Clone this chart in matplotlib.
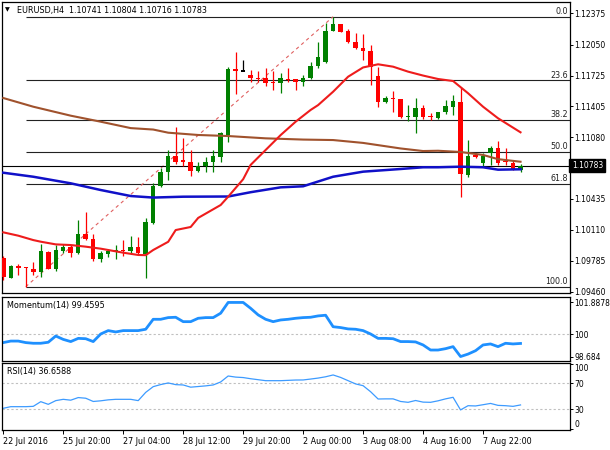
import matplotlib
matplotlib.use("Agg")
import matplotlib.pyplot as plt
import matplotlib.transforms as mtransforms
import numpy as np

W, H = 610, 450
FONT = "DejaVu Sans"
FS = 5.8
FS_TICK = 5.5

# ---------------------------------------------------------------- data ----
opens = [1.09815, 1.09610, 1.09735, 1.09718, 1.09700, 1.09666, 1.09881, 1.09700,
         1.09889, 1.09927, 1.09871, 1.10066, 1.10014, 1.09805, 1.09854, 1.09889,
         1.09899, 1.09889, 1.09934, 1.09854, 1.10178, 1.10572, 1.10719, 1.10886,
         1.10841, 1.10823, 1.10730, 1.10779, 1.10823, 1.10876, 1.11102, 1.11794,
         1.11773, 1.11731, 1.11703, 1.11703, 1.11655, 1.11644, 1.11689, 1.11689,
         1.11661, 1.11697, 1.11825, 1.11870, 1.12192, 1.12265, 1.12192, 1.12080,
         1.12011, 1.11982, 1.11721, 1.11451, 1.11487, 1.11480, 1.11288, 1.11294,
         1.11388, 1.11305, 1.11277, 1.11341, 1.11392, 1.11445, 1.10684, 1.10894,
         1.10807, 1.10911, 1.10964, 1.10826, 1.10807, 1.10741]
highs = [1.09836, 1.09739, 1.09753, 1.09721, 1.09777, 1.09962, 1.09889, 1.09951,
         1.09962, 1.09951, 1.10213, 1.10300, 1.10063, 1.09889, 1.09907, 1.09951,
         1.10003, 1.10048, 1.10038, 1.10231, 1.10597, 1.10755, 1.10946, 1.11189,
         1.11074, 1.10946, 1.10817, 1.10870, 1.10946, 1.11131, 1.11818, 1.11975,
         1.11888, 1.11783, 1.11773, 1.11807, 1.11773, 1.11749, 1.11801, 1.11689,
         1.11731, 1.11870, 1.12080, 1.12272, 1.12341, 1.12268, 1.12210, 1.12168,
         1.12157, 1.12045, 1.11818, 1.11511, 1.11567, 1.11482, 1.11416, 1.11487,
         1.11416, 1.11330, 1.11347, 1.11469, 1.11522, 1.11609, 1.11050, 1.10911,
         1.10911, 1.10988, 1.11043, 1.10964, 1.10841, 1.10804]
lows = [1.09585, 1.09606, 1.09638, 1.09515, 1.09638, 1.09614, 1.09695, 1.09683,
        1.09871, 1.09829, 1.09854, 1.10003, 1.09784, 1.09774, 1.09829, 1.09802,
        1.09840, 1.09857, 1.09854, 1.09610, 1.10168, 1.10561, 1.10632, 1.10799,
        1.10782, 1.10677, 1.10712, 1.10719, 1.10712, 1.10823, 1.11033, 1.11532,
        1.11773, 1.11655, 1.11655, 1.11616, 1.11574, 1.11540, 1.11655, 1.11574,
        1.11619, 1.11686, 1.11807, 1.11860, 1.12192, 1.12181, 1.12069, 1.12000,
        1.11888, 1.11626, 1.11392, 1.11440, 1.11347, 1.11277, 1.11252, 1.11127,
        1.11267, 1.11260, 1.11270, 1.11323, 1.11312, 1.10457, 1.10666, 1.10859,
        1.10765, 1.10789, 1.10789, 1.10789, 1.10737, 1.10716]
closes = [1.09617, 1.09732, 1.09708, 1.09714, 1.09672, 1.09889, 1.09700, 1.09899,
          1.09927, 1.09871, 1.10066, 1.10011, 1.09805, 1.09864, 1.09889, 1.09899,
          1.09889, 1.09934, 1.09864, 1.10189, 1.10572, 1.10719, 1.10886, 1.10823,
          1.10823, 1.10730, 1.10779, 1.10823, 1.10886, 1.11120, 1.11794, 1.11773,
          1.11773, 1.11703, 1.11692, 1.11644, 1.11644, 1.11697, 1.11679, 1.11661,
          1.11697, 1.11825, 1.11916, 1.12192, 1.12265, 1.12184, 1.12080, 1.12011,
          1.11982, 1.11818, 1.11451, 1.11487, 1.11477, 1.11288, 1.11302, 1.11382,
          1.11294, 1.11288, 1.11341, 1.11406, 1.11455, 1.10695, 1.10883, 1.10870,
          1.10883, 1.10964, 1.10813, 1.10820, 1.10744, 1.10783]

ma_red_idx = [0, 2, 4, 5, 7, 9, 11, 13, 14, 16, 18, 19, 20, 22, 23, 25, 26, 29,
              30, 32, 33, 35, 37, 39, 41, 42, 44, 46, 48, 50, 52, 54, 56, 58, 60,
              62, 64, 66, 69]
ma_red = [1.10084, 1.10049, 1.10003, 1.09986, 1.09958, 1.09951, 1.09934, 1.09913,
          1.09899, 1.09871, 1.09847, 1.09845, 1.09899, 1.09985, 1.10108, 1.10140,
          1.10235, 1.10370, 1.10457, 1.10640, 1.10790, 1.10946, 1.11102, 1.11242,
          1.11365, 1.11416, 1.11556, 1.11713, 1.11810, 1.11843, 1.11818, 1.11766,
          1.11725, 1.11689, 1.11668, 1.11540, 1.11399, 1.11278, 1.11131]

ma_brown_idx = [0, 4, 9, 13, 17, 20, 22, 26, 30, 35, 40, 44, 48, 53, 56, 58, 61,
                64, 66, 69]
ma_brown = [1.11490, 1.11399, 1.11305, 1.11242, 1.11175, 1.11160, 1.11127, 1.11103,
            1.11092, 1.11068, 1.11055, 1.11050, 1.11020, 1.10962, 1.10935, 1.10938,
            1.10925, 1.10894, 1.10850, 1.10823]

ma_blue_idx = [0, 4, 9, 13, 17, 20, 24, 30, 33, 37, 40, 44, 48, 53, 56, 58, 61,
               64, 66, 69]
ma_blue = [1.10708, 1.10666, 1.10597, 1.10527, 1.10464, 1.10448, 1.10457, 1.10459,
           1.10504, 1.10555, 1.10566, 1.10666, 1.10719, 1.10747, 1.10765, 1.10765,
           1.10771, 1.10765, 1.10740, 1.10744]

momentum = [99.51, 99.60, 99.60, 99.51, 99.47, 99.47, 99.53, 99.90, 99.70, 99.57,
            99.76, 99.74, 99.57, 100.02, 100.22, 100.14, 100.22, 100.22, 100.22, 100.30,
            100.89, 100.89, 100.99, 101.01, 100.75, 100.75, 100.95, 100.99, 100.99, 101.25,
            101.8878, 101.8878, 101.8878, 101.54, 101.15, 100.89, 100.75, 100.85, 100.89, 100.95,
            100.99, 101.01, 101.09, 101.13, 100.45, 100.40, 100.32, 100.30, 100.22, 100.02,
            99.76, 99.76, 99.74, 99.57, 99.57, 99.55, 99.37, 99.07, 99.07, 99.15,
            99.27, 98.684, 98.83, 99.03, 99.37, 99.43, 99.27, 99.47, 99.43, 99.4595]

rsi = [31.5, 34.0, 34.0, 34.0, 34.5, 41.7, 37.6, 43.3, 45.3, 44.0,
       48.0, 47.0, 42.0, 43.0, 44.5, 45.3, 45.3, 45.3, 43.3, 56.0,
       64.8, 68.0, 70.5, 67.9, 67.4, 64.0, 65.0, 66.0, 67.4, 72.0,
       81.2, 79.5, 78.8, 77.0, 75.5, 74.0, 74.0, 74.0, 74.5, 75.0,
       75.1, 76.5, 78.0, 80.0, 82.8, 79.0, 74.0, 69.0, 66.3, 57.0,
       45.8, 46.0, 46.0, 42.0, 40.7, 43.5, 41.0, 40.7, 43.0, 46.0,
       48.4, 29.0, 35.5, 35.1, 37.0, 39.0, 36.0, 35.5, 34.5, 36.6588]

date_ticks = [0, 8, 16, 24, 32, 40, 48, 56, 64]
date_labels = ["22 Jul 2016", "25 Jul 20:00", "27 Jul 04:00", "28 Jul 12:00",
               "29 Jul 20:00", "2 Aug 00:00", "3 Aug 08:00", "4 Aug 16:00",
               "7 Aug 22:00"]
price_ticks = [1.12375, 1.12050, 1.11725, 1.11405, 1.11080,
               1.10435, 1.10110, 1.09785, 1.09460]
fib_ratios = [0.0, 0.236, 0.382, 0.5, 0.618, 1.0]
fib_low_bar, fib_high_bar = 3, 44
last_price = 1.10783

# --------------------------------------------------------------- layout ---
fig = plt.figure(figsize=(W / 100, H / 100), dpi=100)
fig.patch.set_facecolor("white")


def px_axes(x0, y0, x1, y1):
    return fig.add_axes([x0 / W, 1 - y1 / H, (x1 - x0) / W, (y1 - y0) / H])


ax = px_axes(2, 2, 570, 293)
ax_mom = px_axes(2, 297, 570, 361)
ax_rsi = px_axes(2, 363, 570, 430)

XMIN, XMAX = -0.17, 75.6
for a in (ax, ax_mom, ax_rsi):
    a.set_xlim(XMIN, XMAX)
    for s in a.spines.values():
        s.set_color("black")
        s.set_linewidth(0.9)
    a.yaxis.tick_right()
    a.tick_params(axis="y", direction="out", length=2.2, width=0.7, pad=1.0,
                  labelsize=FS_TICK, colors="black")
    a.set_xticks([])

# --- main price panel ---
ax.set_ylim(1.09449, 1.12495)
idx = np.arange(len(closes))
o = np.array(opens); c = np.array(closes)
colors = ["#008000" if cc > oo else ("#ff0000" if cc < oo else "black")
          for oo, cc in zip(o, c)]
ax.vlines(idx, lows, highs, colors=colors, linewidth=0.9, zorder=4)
body_h = np.maximum(np.abs(c - o), 0.00013)
body_b = np.where(np.abs(c - o) < 0.00013, (o + c) / 2 - 0.000065, np.minimum(o, c))
ax.bar(idx, body_h, bottom=body_b, width=0.6, color=colors, linewidth=0, zorder=5)

ax.plot(ma_brown_idx, ma_brown, color="#a0522d", lw=1.5, zorder=6)
ax.plot(ma_blue_idx, ma_blue, color="#1010c8", lw=1.8, zorder=6)
ax.plot(ma_red_idx, ma_red, color="#ee1c1c", lw=1.5, zorder=6)

# Fibonacci retracement
f_low = lows[fib_low_bar]
f_high = highs[fib_high_bar]
for r in fib_ratios:
    lvl = f_high - r * (f_high - f_low)
    ax.hlines(lvl, fib_low_bar, XMAX, colors="#222222", linewidth=0.8, zorder=3)
    ax.text(XMAX - 0.3, lvl + 0.00006, f"{r * 100:.1f}", ha="right", va="bottom",
            fontsize=FS, family=FONT, color="#222222", zorder=7)
ax.plot([fib_low_bar, fib_high_bar], [f_low, f_high], color="#e06060",
        lw=0.8, ls=(0, (3, 3)), zorder=3)

ax.axhline(last_price, color="black", lw=0.8, zorder=3)
ax.set_yticks(price_ticks)
ax.set_yticklabels([f"{v:.5f}" for v in price_ticks], family=FONT)
trans = mtransforms.blended_transform_factory(ax.transAxes, ax.transData)
ax.text(1.003, last_price, f"{last_price:.5f}", transform=trans, ha="left",
        va="center", fontsize=FS_TICK, family=FONT, color="white", zorder=10,
        bbox=dict(boxstyle="square,pad=0.3", fc="black", ec="black"),
        clip_on=False)

fig.text(5 / W, 1 - 10 / H, "\u25bc", fontsize=4.5, family=FONT, va="center")
fig.text(17 / W, 1 - 10 / H, "EURUSD,H4  1.10741 1.10804 1.10716 1.10783",
         fontsize=FS, family=FONT, va="center")

# --- momentum panel ---
ax_mom.set_ylim(98.42, 102.21)
ax_mom.axhline(100, color="#c0c0c0", lw=0.8, ls=(0, (2, 2)))
ax_mom.plot(idx, momentum, color="#1e90ff", lw=2.0)
ax_mom.set_yticks([98.684, 100, 101.8878])
ax_mom.set_yticklabels(["98.684", "100", "101.8878"], family=FONT)
ax_mom.text(0.009, 0.86, "Momentum(14) 99.4595", transform=ax_mom.transAxes,
            fontsize=FS, family=FONT, va="center")

# --- RSI panel ---
ax_rsi.set_ylim(-1.9, 101.2)
for lvl in (70, 30):
    ax_rsi.axhline(lvl, color="#c0c0c0", lw=0.8, ls=(0, (2, 2)))
ax_rsi.plot(idx, rsi, color="#3d9bff", lw=0.9)
ax_rsi.set_yticks([0, 30, 70, 100])
ax_rsi.set_yticklabels(["0", "30", "70", "100"], family=FONT)
rl = ax_rsi.get_yticklabels()
rl[0].set_va("bottom")
rl[3].set_va("top")
ax_rsi.text(0.009, 0.87, "RSI(14) 36.6588", transform=ax_rsi.transAxes,
            fontsize=FS, family=FONT, va="center")

ax_rsi.set_xticks(date_ticks)
ax_rsi.set_xticklabels(date_labels, family=FONT, fontsize=FS)
ax_rsi.tick_params(axis="x", direction="out", length=3, width=0.7, pad=2)
for lbl in ax_rsi.get_xticklabels():
    lbl.set_ha("left")

fig.savefig("out.png", dpi=100)
